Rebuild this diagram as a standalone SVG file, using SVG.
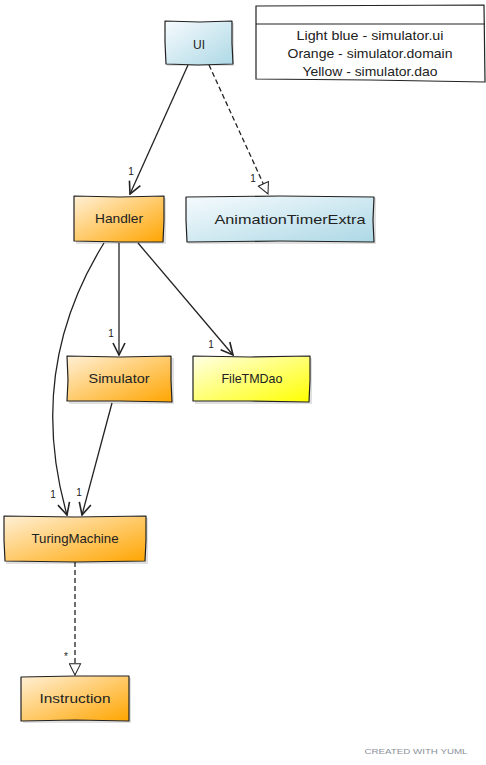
<svg xmlns="http://www.w3.org/2000/svg" width="486" height="765" viewBox="0 0 486 765">
<style>
.box{stroke:#222;stroke-width:1.2;stroke-linejoin:round}
.shadow{fill:#000;opacity:0.12}
.lbl{font-family:"Liberation Sans","DejaVu Sans",sans-serif;font-size:13px;fill:#222;text-anchor:middle}
.mult{font-family:"Liberation Sans","DejaVu Sans",sans-serif;font-size:10px;fill:#222;text-anchor:middle}
.edge{fill:none;stroke:#222;stroke-width:1.3}
.dash{stroke-dasharray:5,3}
</style>
<defs>
<linearGradient id="gBlue" x1="0" y1="0" x2="1" y2="1">
<stop offset="0" stop-color="#f6fbfd"/>
<stop offset="1" stop-color="#add8e6"/>
</linearGradient>
<linearGradient id="gOrange" x1="0" y1="0" x2="1" y2="1">
<stop offset="0" stop-color="#fff0d6"/>
<stop offset="1" stop-color="#ffa500"/>
</linearGradient>
<linearGradient id="gYellow" x1="0" y1="0" x2="1" y2="1">
<stop offset="0" stop-color="#ffffe6"/>
<stop offset="1" stop-color="#ffff00"/>
</linearGradient>
<marker id="open" viewBox="0 0 14 14" refX="13" refY="7" markerWidth="14" markerHeight="14" markerUnits="userSpaceOnUse" orient="auto">
<path d="M1,1 L13,7 L1,13" fill="none" stroke="#222" stroke-width="1.6"/>
</marker>
<marker id="tri" viewBox="0 0 14 14" refX="13" refY="7" markerWidth="13" markerHeight="13" markerUnits="userSpaceOnUse" orient="auto">
<path d="M1,1 L13,7 L1,13 Z" fill="#fff" stroke="#222" stroke-width="1.1"/>
</marker>
</defs>
<rect width="486" height="765" fill="#fff"/>

<g id="connectors">
<path class="edge" d="M188,65 L130,194" marker-end="url(#open)"/>
<text class="mult" x="131" y="175">1</text>
<path class="edge dash" d="M209,65 L268,194" marker-end="url(#tri)"/>
<text class="mult" x="253" y="182">1</text>
<path class="edge" d="M119,243 L119,355" marker-end="url(#open)"/>
<text class="mult" x="111" y="337">1</text>
<path class="edge" d="M138,243 L233,355" marker-end="url(#open)"/>
<text class="mult" x="211" y="348">1</text>
<path class="edge" d="M104,243 C50,330 40,420 67,515" marker-end="url(#open)"/>
<text class="mult" x="53" y="498">1</text>
<path class="edge" d="M112,403 L82,515" marker-end="url(#open)"/>
<text class="mult" x="79" y="496">1</text>
<path class="edge dash" d="M75,562 L75,675" marker-end="url(#tri)"/>
<text class="mult" x="66" y="660">*</text>
</g>

<g id="legend">
<path d="M256,6 L484,5 L485,82 L370,80 L256,79 Z" fill="#fff" stroke="#222" stroke-width="1.2"/>
<path d="M256,24 L485,24" stroke="#222" stroke-width="1.2"/>
<text class="lbl" x="370" y="40" textLength="147" lengthAdjust="spacingAndGlyphs">Light blue - simulator.ui</text>
<text class="lbl" x="370" y="58" textLength="165" lengthAdjust="spacingAndGlyphs">Orange - simulator.domain</text>
<text class="lbl" x="370" y="76" textLength="135" lengthAdjust="spacingAndGlyphs">Yellow - simulator.dao</text>
</g>

<g id="UI">
<rect class="shadow" x="167" y="23" width="67" height="43"/>
<path class="box" d="M165,21 L200,22 L232,21 L232,43 L233,64 L198,65 L166,64 L165,42 Z" fill="url(#gBlue)"/>
<text class="lbl" x="199" y="49" textLength="12" lengthAdjust="spacingAndGlyphs">UI</text>
</g>

<g id="AnimationTimerExtra">
<rect class="shadow" x="188" y="198" width="188" height="46"/>
<path class="box" d="M186,197 L280,196 L374,197 L373,220 L374,242 L280,241 L187,242 L186,220 Z" fill="url(#gBlue)"/>
<text class="lbl" x="290" y="224" textLength="151" lengthAdjust="spacingAndGlyphs">AnimationTimerExtra</text>
</g>

<g id="Handler">
<rect class="shadow" x="76" y="198" width="90" height="46"/>
<path class="box" d="M74,196 L120,197 L164,196 L164,220 L163,242 L120,242 L74,241 L74,220 Z" fill="url(#gOrange)"/>
<text class="lbl" x="119" y="223" textLength="48" lengthAdjust="spacingAndGlyphs">Handler</text>
</g>

<g id="Simulator">
<rect class="shadow" x="69" y="358" width="105" height="46"/>
<path class="box" d="M67,356 L120,357 L171,356 L171,380 L172,402 L120,401 L67,401 L68,380 Z" fill="url(#gOrange)"/>
<text class="lbl" x="119" y="383" textLength="61" lengthAdjust="spacingAndGlyphs">Simulator</text>
</g>

<g id="FileTMDao">
<rect class="shadow" x="195" y="358" width="117" height="46"/>
<path class="box" d="M193,356 L250,357 L310,356 L310,380 L309,402 L250,401 L193,401 L193,380 Z" fill="url(#gYellow)"/>
<text class="lbl" x="252" y="383" textLength="61" lengthAdjust="spacingAndGlyphs">FileTMDao</text>
</g>

<g id="TuringMachine">
<rect class="shadow" x="6" y="518" width="142" height="46"/>
<path class="box" d="M4,516 L75,517 L146,516 L146,540 L145,561 L75,562 L5,561 L4,540 Z" fill="url(#gOrange)"/>
<text class="lbl" x="75" y="543" textLength="87" lengthAdjust="spacingAndGlyphs">TuringMachine</text>
</g>

<g id="Instruction">
<rect class="shadow" x="23" y="678" width="108" height="45"/>
<path class="box" d="M21,677 L75,676 L129,676 L129,700 L129,721 L75,720 L21,721 L21,700 Z" fill="url(#gOrange)"/>
<text class="lbl" x="75" y="703" textLength="71" lengthAdjust="spacingAndGlyphs">Instruction</text>
</g>

<text x="416" y="754" font-family="Liberation Sans, DejaVu Sans, sans-serif" font-size="8" fill="#8a9099" text-anchor="middle" textLength="103" lengthAdjust="spacingAndGlyphs">CREATED WITH YUML</text>
</svg>
